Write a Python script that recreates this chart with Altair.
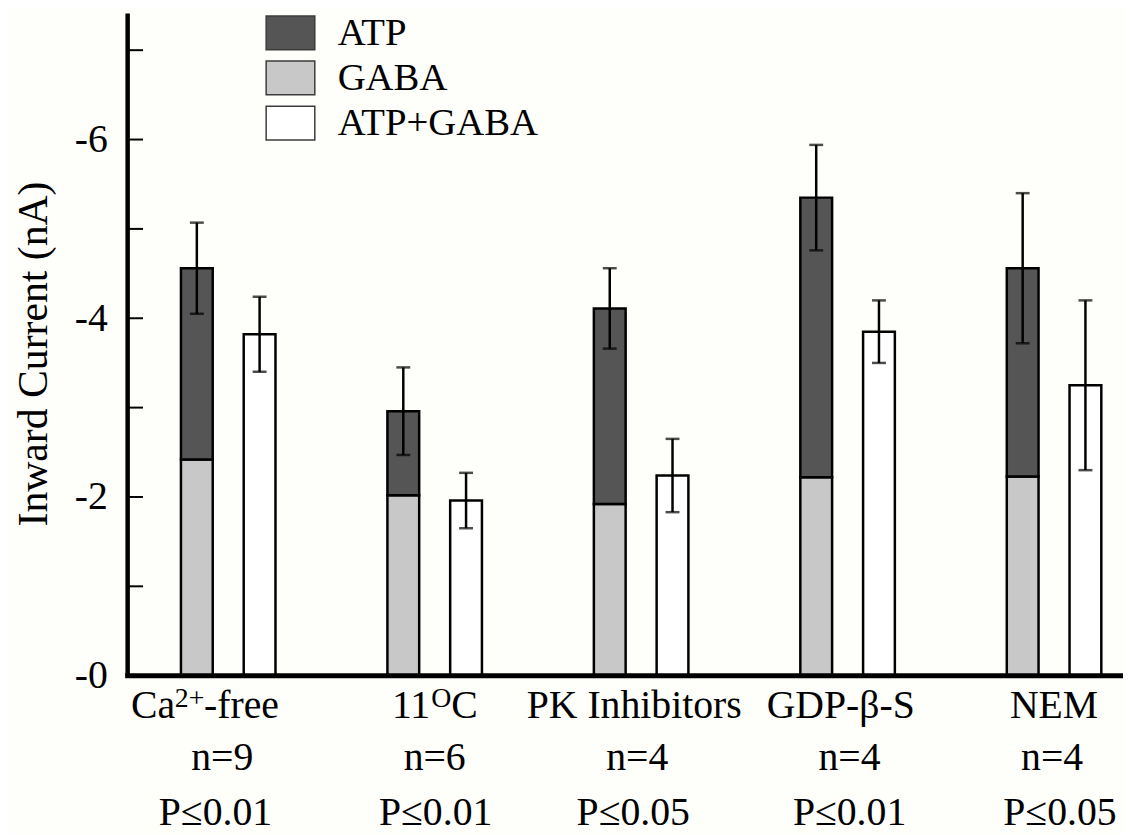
import altair as alt
import pandas as pd

# ---------------- data ----------------
conditions = ["Ca^2+^-free", "11^O^C", "PK Inhibitors", "GDP-β-S", "NEM"]  # ^..^ = superscript
n_labels = ["n=9", "n=6", "n=4", "n=4", "n=4"]
p_labels = ["P≤0.01", "P≤0.01", "P≤0.05", "P≤0.01", "P≤0.05"]

gaba = [-2.42, -2.02, -1.92, -2.22, -2.23]          # nA, bottom segment
atp = [-2.14, -0.94, -2.19, -3.13, -2.33]           # nA, stacked on GABA
atp_sem = [0.51, 0.49, 0.45, 0.59, 0.84]            # error of the stacked total
atp_gaba = [-3.82, -1.96, -2.24, -3.85, -3.25]      # nA, co-application
atp_gaba_sem = [0.42, 0.31, 0.41, 0.35, 0.95]

series = ["ATP", "GABA", "ATP+GABA"]
series_colors = ["#555555", "#c8c8c8", "#ffffff"]
y_label_values = [0, -2, -4, -6]
y_tick_values = [-1, -2, -3, -4, -5, -6, -7]

# ---------------- layout ----------------
FONT = "Liberation Serif"
W, H = 1003, 667.5
X_DOMAIN = [-0.4655, 4.31]
Y_DOMAIN = [-7.417, 0]
PX = W / (X_DOMAIN[1] - X_DOMAIN[0])
BAR_OFF = 0.152
FS = 40
SUP_FS = 28
SUP_RAISE = 11
CAT_NUDGE = [-24, 0, -7, -7, 0]
N_NUDGE = [-6, 0, -4, 2, -2]
P_NUDGE = [-13, 1, -8, 2, 6]
ROW_Y = [710, 763, 818]

xs = alt.Scale(domain=X_DOMAIN, nice=False, zero=False)
ys = alt.Scale(domain=Y_DOMAIN, nice=False, zero=False, reverse=True)

# bars table
bar_rows, err_rows = [], []
for i in range(len(conditions)):
    bar_rows.append(dict(x=i - BAR_OFF, y=0, y2=gaba[i], series="GABA"))
    bar_rows.append(dict(x=i - BAR_OFF, y=gaba[i], y2=gaba[i] + atp[i], series="ATP"))
    bar_rows.append(dict(x=i + BAR_OFF, y=0, y2=atp_gaba[i], series="ATP+GABA"))
    tot = gaba[i] + atp[i]
    err_rows.append(dict(x=i - BAR_OFF, lo=tot + atp_sem[i], hi=tot - atp_sem[i]))
    err_rows.append(dict(x=i + BAR_OFF, lo=atp_gaba[i] + atp_gaba_sem[i], hi=atp_gaba[i] - atp_gaba_sem[i]))
bars_df = pd.DataFrame(bar_rows)
err_df = pd.DataFrame(err_rows)

# text labels
EM = {"C": .667, "a": .444, "2": .5, "+": .564, "-": .333, "f": .333, "r": .333,
      "e": .444, "1": .5, "O": .722}


def tw(s, fs):
    return sum(EM.get(c, .5) for c in s) * fs


center_rows, left_rows, sup_rows = [], [], []
for i, lab in enumerate(conditions):
    parts = lab.split("^")
    if len(parts) == 1:
        center_rows.append(dict(x=i + CAT_NUDGE[i] / PX, t=lab, y=ROW_Y[0]))
        continue
    pieces = [(p, k % 2 == 1) for k, p in enumerate(parts) if p]
    total = sum(tw(p, SUP_FS if s else FS) for p, s in pieces)
    cur = CAT_NUDGE[i] - total / 2
    for p, s in pieces:
        row = dict(x=i + cur / PX, t=p, y=ROW_Y[0] - (SUP_RAISE if s else 0))
        (sup_rows if s else left_rows).append(row)
        cur += tw(p, SUP_FS if s else FS)
for i in range(len(conditions)):
    center_rows.append(dict(x=i + N_NUDGE[i] / PX, t=n_labels[i], y=ROW_Y[1]))
    center_rows.append(dict(x=i + P_NUDGE[i] / PX, t=p_labels[i], y=ROW_Y[2]))

tick_df = pd.DataFrame({"v": y_tick_values})
base_df = pd.DataFrame({"v": [0]})

legend_path = "M-1.441,-1H1.441V1H-1.441Z"

bars = alt.Chart(bars_df).mark_bar(size=32, stroke="black", strokeWidth=2.5).encode(
    x=alt.X("x:Q", scale=xs, axis=None),
    y=alt.Y("y:Q", scale=ys, axis=alt.Axis(values=y_label_values, labelExpr="'-' + abs(datum.value)",
                                           ticks=False, grid=False, domainColor="black", domainWidth=4.5,
                                           labelFont=FONT, labelFontSize=FS, labelColor="black",
                                           labelPadding=20, title="Inward Current (nA)",
                                           titleFont=FONT, titleFontSize=42, titleFontWeight="normal",
                                           titleColor="black", titleX=-81, titleY=343, titleAngle=-90,
                                           titleBaseline="alphabetic", titleAlign="center")),
    y2="y2:Q",
    color=alt.Color("series:N", scale=alt.Scale(domain=series, range=series_colors),
                    legend=alt.Legend(title=None, orient="none", legendX=140, legendY=0.5,
                                      symbolType=legend_path, symbolSize=1156, symbolOffset=5,
                                      symbolStrokeColor="#3c3c3c", symbolStrokeWidth=1.5,
                                      symbolOpacity=1,
                                      labelFont=FONT, labelFontSize=39, labelColor="black",
                                      labelOffset=28, rowPadding=4.5, padding=0, labelLimit=0)),
)

err_rule = alt.Chart(err_df).mark_rule(color="black", strokeWidth=2.5).encode(
    x=alt.X("x:Q", scale=xs, axis=None),
    y=alt.Y("lo:Q", scale=ys, axis=None),
    y2="hi:Q",
)
cap_lo = alt.Chart(err_df).mark_tick(orient="horizontal", size=14, thickness=2.5, color="black").encode(
    x=alt.X("x:Q", scale=xs, axis=None), y=alt.Y("lo:Q", scale=ys, axis=None))
cap_hi = alt.Chart(err_df).mark_tick(orient="horizontal", size=14, thickness=2.5, color="black").encode(
    x=alt.X("x:Q", scale=xs, axis=None), y=alt.Y("hi:Q", scale=ys, axis=None))

yticks = alt.Chart(tick_df).mark_rule(color="black", strokeWidth=2).encode(
    y=alt.Y("v:Q", scale=ys, axis=None), x=alt.value(0), x2=alt.value(16))

# x-axis baseline (at zero current)
baseline = alt.Chart(base_df).mark_rule(color="black", strokeWidth=5).encode(
    y=alt.Y("v:Q", scale=ys, axis=None), x=alt.value(-2), x2=alt.value(W))

txt_center = alt.Chart(pd.DataFrame(center_rows)).mark_text(
    font=FONT, fontSize=FS, align="center", baseline="alphabetic", color="black").encode(
    x=alt.X("x:Q", scale=xs, axis=None), y=alt.Y("y:Q", scale=None), text="t:N")
txt_left = alt.Chart(pd.DataFrame(left_rows)).mark_text(
    font=FONT, fontSize=FS, align="left", baseline="alphabetic", color="black").encode(
    x=alt.X("x:Q", scale=xs, axis=None), y=alt.Y("y:Q", scale=None), text="t:N")
txt_sup = alt.Chart(pd.DataFrame(sup_rows)).mark_text(
    font=FONT, fontSize=SUP_FS, align="left", baseline="alphabetic", color="black").encode(
    x=alt.X("x:Q", scale=xs, axis=None), y=alt.Y("y:Q", scale=None), text="t:N")

chart = alt.layer(bars, err_rule, cap_lo, cap_hi, yticks, baseline, txt_center, txt_left, txt_sup).properties(
    width=W, height=H,
    autosize=alt.AutoSizeParams(type="none"),
    padding={"left": 120, "top": 2, "right": 2, "bottom": 156},
    background="#fefefb",
).configure_view(stroke=None).resolve_scale(y="independent")

chart.save("out.html", embed_options={"renderer": "svg", "actions": False})
